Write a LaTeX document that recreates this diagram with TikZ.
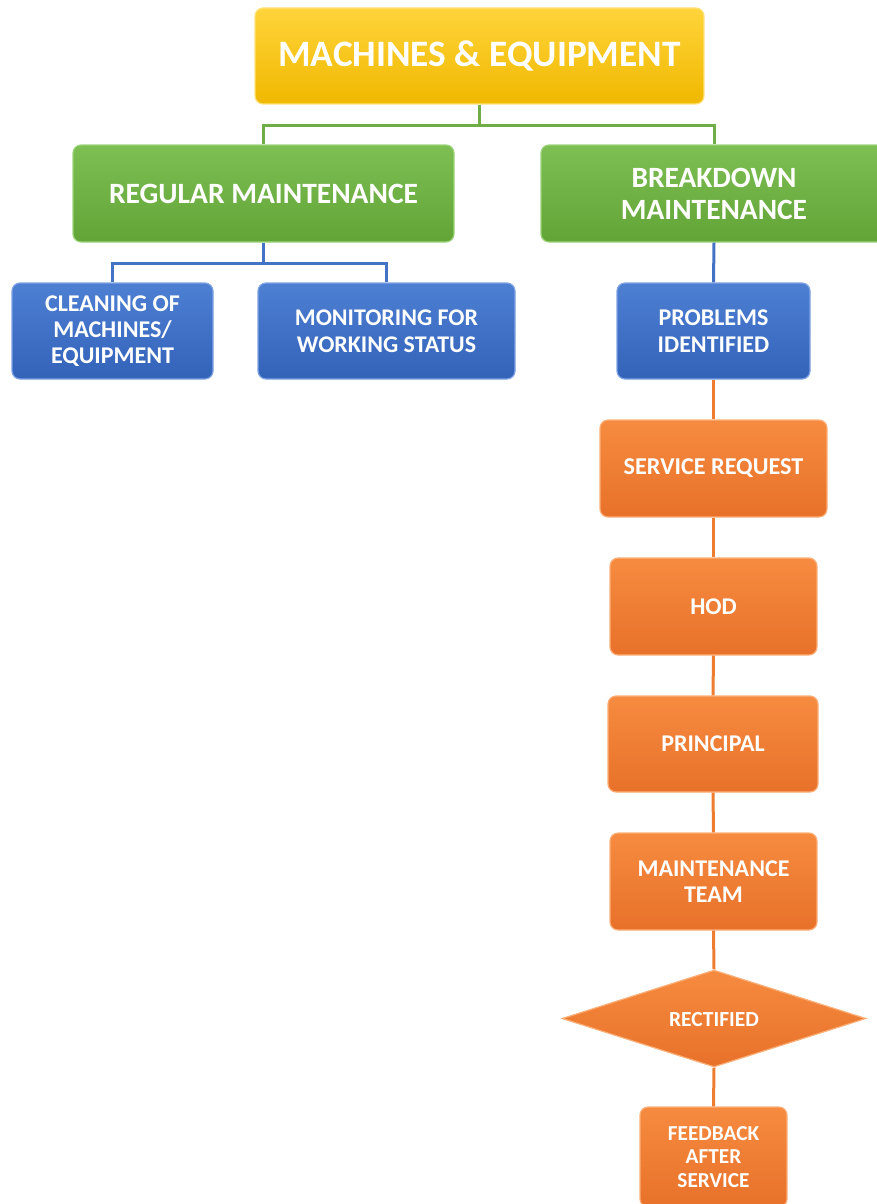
\documentclass[tikz,border=0pt]{standalone}
\usepackage{fontspec}
\setmainfont{Carlito}
\usetikzlibrary{shapes.geometric}
\definecolor{yelT}{HTML}{FFD43B}
\definecolor{yelB}{HTML}{F0B800}
\definecolor{yelE}{HTML}{FFE27A}
\definecolor{grnT}{HTML}{7EBF54}
\definecolor{grnB}{HTML}{62A436}
\definecolor{grnE}{HTML}{9CD47A}
\definecolor{grnL}{HTML}{70AD47}
\definecolor{bluT}{HTML}{4D7FD3}
\definecolor{bluB}{HTML}{3363B9}
\definecolor{bluE}{HTML}{7FA3E3}
\definecolor{bluL}{HTML}{4472C4}
\definecolor{orgT}{HTML}{F68B40}
\definecolor{orgB}{HTML}{E8712A}
\definecolor{orgE}{HTML}{FBB07A}
\definecolor{orgL}{HTML}{ED7D31}
\tikzset{
  box/.style={rectangle, rounded corners=8pt, align=center, text=white, inner sep=0pt, line width=1.2pt},
  ybox/.style={box, top color=yelT, bottom color=yelB, draw=yelE},
  gbox/.style={box, top color=grnT, bottom color=grnB, draw=grnE},
  bbox/.style={box, top color=bluT, bottom color=bluB, draw=bluE},
  obox/.style={box, top color=orgT, bottom color=orgB, draw=orgE},
  odia/.style={diamond, align=center, text=white, inner sep=0pt, top color=orgT, bottom color=orgB, draw=orgE, line width=1.2pt},
  gline/.style={draw=grnL, line width=3pt},
  bline/.style={draw=bluL, line width=3pt},
  oline/.style={draw=orgL, line width=3pt},
}
\begin{document}
\begin{tikzpicture}[x=1pt,y=-1pt]
\useasboundingbox (0,0) rectangle (876,1204);
% nodes
\node[ybox, minimum width=449pt, minimum height=96pt, font=\fontsize{37.3}{42}\selectfont\bfseries] (top) at (479.5,56) {MACHINES \& EQUIPMENT};
\node[gbox, minimum width=381pt, minimum height=97pt, font=\fontsize{29.5}{32}\selectfont\bfseries] (reg) at (263.5,193.5) {REGULAR MAINTENANCE};
\node[gbox, minimum width=346pt, minimum height=97pt, font=\fontsize{29.4}{32}\selectfont\bfseries] (brk) at (714,193.5) {BREAKDOWN\\MAINTENANCE};
\node[bbox, minimum width=201pt, minimum height=96pt, font=\fontsize{24}{26}\selectfont\bfseries] (cln) at (112.5,331) {CLEANING OF\\MACHINES/\\EQUIPMENT};
\node[bbox, minimum width=257pt, minimum height=96pt, font=\fontsize{23.9}{27}\selectfont\bfseries] (mon) at (386.5,331) {MONITORING FOR\\WORKING STATUS};
\node[bbox, minimum width=193pt, minimum height=96pt, font=\fontsize{24}{27}\selectfont\bfseries] (prb) at (713.5,331) {PROBLEMS\\IDENTIFIED};
\node[obox, minimum width=227pt, minimum height=97pt, font=\fontsize{24.2}{26}\selectfont\bfseries] (srv) at (713.5,468.5) {SERVICE REQUEST};
\node[obox, minimum width=207pt, minimum height=97pt, font=\fontsize{24}{26}\selectfont\bfseries] (hod) at (713.5,606.5) {HOD};
\node[obox, minimum width=210pt, minimum height=96pt, font=\fontsize{24}{26}\selectfont\bfseries] (prn) at (713,744) {PRINCIPAL};
\node[obox, minimum width=207pt, minimum height=97pt, font=\fontsize{24}{26}\selectfont\bfseries] (mtm) at (713.5,881.5) {MAINTENANCE\\TEAM};
\node[odia, minimum width=304pt, minimum height=97pt, font=\fontsize{21.5}{22}\selectfont\bfseries] (rec) at (714,1018.5) {\raisebox{-0.35em}[0pt][0pt]{\makebox[0pt]{RECTIFIED}}};
\node[obox, minimum width=147pt, minimum height=100pt, font=\fontsize{21.3}{23.5}\selectfont\bfseries] (fdb) at (713.5,1157) {FEEDBACK\\AFTER\\SERVICE};
% connectors
\draw[gline] (top.south) -- ++(0,21) -| (reg.north);
\draw[gline] (top.south) -- ++(0,21) -| (brk.north);
\draw[bline] (reg.south) -- ++(0,21) -| (cln.north);
\draw[bline] (reg.south) -- ++(0,21) -| (mon.north);
\draw[bline] (brk.south) -- (prb.north);
\draw[oline] (prb.south) -- (srv.north);
\draw[oline] (srv.south) -- (hod.north);
\draw[oline] (hod.south) -- (prn.north);
\draw[oline] (prn.south) -- (mtm.north);
\draw[oline] (mtm.south) -- (rec.north);
\draw[oline] (rec.south) -- (fdb.north);
\end{tikzpicture}
\end{document}
